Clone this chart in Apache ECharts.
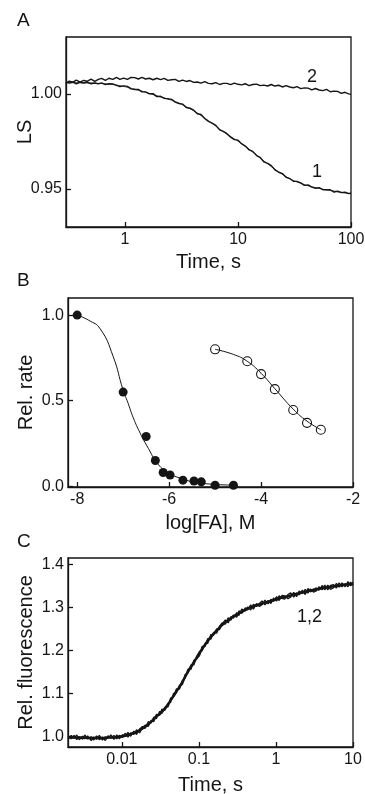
<!DOCTYPE html>
<html><head><meta charset="utf-8">
<script src="https://cdn.jsdelivr.net/npm/echarts@6/dist/echarts.min.js"></script>
<style>html,body{margin:0;padding:0;background:#fff}#c{width:365px;height:794px}</style>
</head><body><div id="c"></div>
<script>
// ---------- Panel A: light scattering vs time ----------
const timeA = [0.30,0.32,0.345,0.37,0.40,0.43,0.46,0.50,0.54,0.58,0.62,0.67,0.72,0.78,0.84,0.90,0.97,1.05,1.13,1.22,1.31,1.41,1.52,1.64,1.77,1.91,2.06,2.22,2.39,2.58,2.78,3.0,3.23,3.48,3.75,4.05,4.36,4.7,5.07,5.47,5.9,6.36,6.86,7.4,7.98,8.6,9.27,10.0,10.8,11.6,12.5,13.5,14.6,15.7,16.9,18.3,19.7,21.2,22.9,24.7,26.6,28.7,30.9,33.3,35.9,38.7,41.7,45,48.5,52.3,56.4,60.8,65.5,70.7,76.2,82.1,88.5,95.4,100];
const lsTrace1 = [1.0064,1.0057,1.0062,1.0054,1.0062,1.0058,1.0063,1.0054,1.0058,1.0053,1.0059,1.0049,1.0054,1.0053,1.0045,1.0039,1.0043,1.0040,1.0027,1.0024,1.0024,1.0011,1.0011,1.0001,1.0002,0.9986,0.9988,0.9977,0.9975,0.9972,0.9957,0.9950,0.9947,0.9929,0.9925,0.9915,0.9896,0.9892,0.9871,0.9856,0.9847,0.9835,0.9811,0.9803,0.9791,0.9773,0.9760,0.9757,0.9737,0.9726,0.9706,0.9698,0.9676,0.9666,0.9643,0.9635,0.9623,0.9601,0.9588,0.9581,0.9562,0.9555,0.9541,0.9540,0.9532,0.9519,0.9522,0.9510,0.9504,0.9507,0.9496,0.9496,0.9496,0.9484,0.9488,0.9481,0.9483,0.9476,0.9479];
const lsFit1 = [1.0060,1.0060,1.0060,1.0059,1.0059,1.0059,1.0058,1.0058,1.0057,1.0056,1.0055,1.0054,1.0052,1.0050,1.0047,1.0044,1.0040,1.0035,1.0030,1.0025,1.0020,1.0015,1.0009,1.0003,0.9997,0.9991,0.9985,0.9980,0.9974,0.9967,0.9960,0.9952,0.9943,0.9933,0.9923,0.9912,0.9900,0.9887,0.9873,0.9859,0.9845,0.9831,0.9816,0.9802,0.9788,0.9776,0.9764,0.9752,0.9738,0.9724,0.9710,0.9694,0.9678,0.9663,0.9648,0.9633,0.9618,0.9604,0.9590,0.9577,0.9565,0.9554,0.9545,0.9537,0.9530,0.9523,0.9517,0.9512,0.9507,0.9503,0.9499,0.9495,0.9492,0.9489,0.9486,0.9483,0.9480,0.9477,0.9475];
const lsTrace2 = [1.0055,1.0068,1.0062,1.0073,1.0062,1.0072,1.0067,1.0078,1.0067,1.0077,1.0082,1.0072,1.0083,1.0077,1.0088,1.0077,1.0084,1.0077,1.0087,1.0086,1.0079,1.0087,1.0079,1.0083,1.0075,1.0083,1.0076,1.0082,1.0072,1.0075,1.0077,1.0066,1.0073,1.0066,1.0071,1.0061,1.0063,1.0057,1.0065,1.0056,1.0054,1.0060,1.0050,1.0056,1.0056,1.0049,1.0057,1.0051,1.0048,1.0054,1.0044,1.0050,1.0052,1.0044,1.0047,1.0042,1.0050,1.0042,1.0046,1.0037,1.0044,1.0037,1.0033,1.0039,1.0028,1.0032,1.0031,1.0022,1.0029,1.0021,1.0018,1.0024,1.0012,1.0015,1.0014,1.0003,1.0009,1.0001,0.9998];
const ticksAx = [1, 10, 100];
const ticksAy = [0.95, 1.00];

// ---------- Panel B: relative rate vs log[FA] ----------
const logFAfilled = [-8.0,-7.0,-6.5,-6.3,-6.13,-5.98,-5.7,-5.46,-5.3,-5.0,-4.6];
const rateFilled  = [1.0,0.55,0.29,0.15,0.08,0.065,0.035,0.03,0.025,0.005,0.005];
const logFAopen = [-5.0,-4.3,-4.0,-3.7,-3.3,-3.0,-2.7];
const rateOpen  = [0.80,0.73,0.655,0.567,0.445,0.37,0.33];
const fitFilledX = [-8.0,-7.75,-7.5,-7.22,-7.0,-6.9,-6.78,-6.63,-6.45,-6.26,-6.04,-5.76,-5.33,-4.6];
const fitFilledY = [1.0,0.97,0.92,0.76,0.56,0.49,0.40,0.31,0.22,0.135,0.082,0.047,0.018,0.006];
const fitOpenX = [-5.0,-4.6,-4.3,-4.0,-3.7,-3.3,-3.0,-2.7];
const fitOpenY = [0.80,0.77,0.73,0.66,0.57,0.45,0.38,0.33];
const ticksBx = [-8, -6, -4, -2];
const ticksBy = [0.0, 0.5, 1.0];

// ---------- Panel C: relative fluorescence vs time (traces 1 and 2) ----------
const timeC = [0.0020,0.0022,0.0024,0.0026,0.0028,0.0031,0.0033,0.0036,0.0040,0.0043,0.0047,0.0051,0.0056,0.0061,0.0066,0.0072,0.0079,0.0086,0.0093,0.0102,0.011,0.012,0.013,0.0143,0.0155,0.017,0.0185,0.020,0.022,0.024,0.026,0.028,0.031,0.033,0.036,0.040,0.043,0.047,0.051,0.056,0.061,0.066,0.072,0.079,0.086,0.093,0.102,0.11,0.12,0.13,0.143,0.155,0.17,0.185,0.20,0.22,0.24,0.26,0.28,0.31,0.33,0.36,0.40,0.43,0.47,0.51,0.56,0.61,0.66,0.72,0.79,0.86,0.93,1.02,1.1,1.2,1.3,1.43,1.55,1.7,1.85,2.0,2.2,2.4,2.6,2.8,3.1,3.3,3.6,4.0,4.3,4.7,5.1,5.6,6.1,6.6,7.2,7.9,8.6,9.3,10.0];
const fluTrace1 = [1.001,0.994,1.002,0.992,0.999,0.993,1.003,0.994,0.999,0.991,1.001,0.992,0.998,0.990,1.001,0.996,1.002,0.994,1.002,0.997,1.007,0.998,1.008,1.004,1.015,1.008,1.020,1.026,1.023,1.037,1.034,1.051,1.049,1.063,1.060,1.077,1.079,1.100,1.101,1.119,1.120,1.143,1.148,1.166,1.166,1.185,1.198,1.199,1.215,1.216,1.237,1.235,1.250,1.248,1.261,1.271,1.264,1.278,1.275,1.288,1.281,1.296,1.292,1.301,1.294,1.307,1.302,1.309,1.315,1.306,1.316,1.309,1.322,1.315,1.327,1.321,1.319,1.330,1.334,1.324,1.334,1.329,1.340,1.330,1.344,1.336,1.343,1.337,1.348,1.341,1.352,1.341,1.351,1.353,1.345,1.357,1.348,1.355,1.348,1.359,1.352];
const fluTrace2 = [0.993,1.002,0.995,1.003,0.992,1.000,0.994,1.001,0.990,0.998,0.993,1.002,0.991,0.999,0.995,1.003,0.993,1.003,0.994,1.004,0.999,1.009,1.000,1.012,1.004,1.017,1.023,1.018,1.034,1.031,1.045,1.041,1.058,1.053,1.067,1.069,1.089,1.092,1.110,1.110,1.130,1.135,1.156,1.156,1.177,1.180,1.188,1.209,1.209,1.227,1.226,1.242,1.240,1.256,1.264,1.261,1.276,1.270,1.282,1.277,1.292,1.286,1.299,1.294,1.306,1.296,1.309,1.302,1.306,1.317,1.308,1.319,1.314,1.325,1.316,1.328,1.327,1.320,1.324,1.335,1.325,1.338,1.332,1.342,1.333,1.343,1.335,1.346,1.340,1.351,1.341,1.352,1.342,1.346,1.356,1.347,1.357,1.348,1.360,1.350,1.359];
const fluMean = [0.997,0.997,0.997,0.997,0.997,0.997,0.997,0.996,0.996,0.996,0.996,0.996,0.996,0.996,0.997,0.997,0.997,0.998,0.999,1.000,1.001,1.003,1.005,1.008,1.010,1.014,1.018,1.022,1.028,1.034,1.040,1.046,1.052,1.057,1.064,1.075,1.084,1.094,1.104,1.115,1.126,1.138,1.150,1.162,1.172,1.182,1.193,1.203,1.213,1.222,1.231,1.238,1.246,1.253,1.259,1.265,1.270,1.275,1.279,1.283,1.286,1.290,1.294,1.297,1.300,1.302,1.305,1.307,1.309,1.311,1.313,1.315,1.317,1.319,1.321,1.323,1.324,1.326,1.328,1.330,1.331,1.333,1.335,1.336,1.338,1.339,1.341,1.342,1.343,1.345,1.346,1.347,1.348,1.349,1.350,1.351,1.352,1.353,1.354,1.354,1.355];
const ticksCx = [0.01, 0.1, 1, 10];
const ticksCy = [1.0, 1.1, 1.2, 1.3, 1.4];

// ---------- styling ----------
const FONT = "'Liberation Sans', Arial, sans-serif";
const INK = '#151515';
const zip = (xs, ys) => xs.map((x, i) => [x, ys[i]]);

function xAx(gi, type, min, max, ticks, fmt, name, gap) {
  return {
    gridIndex: gi, type: type, logBase: 10, min: min, max: max,
    name: name, nameLocation: 'middle', nameGap: gap, nameMoveOverlap: false,
    nameTextStyle: { fontFamily: FONT, fontSize: 20, color: INK },
    axisLine: { show: true, onZero: false, lineStyle: { color: INK, width: 1.3 } },
    axisTick: { show: true, inside: true, length: 5, customValues: ticks, lineStyle: { color: INK, width: 1.3 } },
    minorTick: { show: false },
    axisLabel: { customValues: ticks, formatter: fmt, margin: 5, fontFamily: FONT, fontSize: 16, color: INK },
    splitLine: { show: false }
  };
}
function yAx(gi, min, max, ticks, fmt, name, gap) {
  return {
    gridIndex: gi, type: 'value', min: min, max: max,
    name: name, nameLocation: 'middle', nameGap: gap, nameRotate: 90, nameMoveOverlap: false,
    nameTextStyle: { fontFamily: FONT, fontSize: 20, color: INK },
    axisLine: { show: true, onZero: false, lineStyle: { color: INK, width: 1.3 } },
    axisTick: { show: true, inside: true, length: 5, customValues: ticks, lineStyle: { color: INK, width: 1.3 } },
    axisLabel: { customValues: ticks, formatter: fmt, margin: 4, fontFamily: FONT, fontSize: 16, color: INK },
    splitLine: { show: false }
  };
}
const gridBase = { show: true, borderColor: INK, borderWidth: 1.3, backgroundColor: 'transparent', outerBoundsMode: 'none', containLabel: false };

const option = {
  animation: false,
  backgroundColor: '#fff',
  grid: [
    Object.assign({ left: 66, top: 37, width: 285, height: 190 }, gridBase),
    Object.assign({ left: 68, top: 298, width: 285, height: 189 }, gridBase),
    Object.assign({ left: 68, top: 558, width: 285, height: 189 }, gridBase)
  ],
  xAxis: [
    xAx(0, 'log', 0.3, 100, ticksAx, v => String(v), 'Time, s', 25),
    xAx(1, 'value', -8.2, -2, ticksBx, v => String(v), 'log[FA], M', 26),
    xAx(2, 'log', 0.002, 10, ticksCx, v => String(v), 'Time, s', 28)
  ],
  yAxis: [
    yAx(0, 0.93, 1.03, ticksAy, v => v.toFixed(2), 'LS', 31),
    yAx(1, -0.005, 1.1, ticksBy, v => v.toFixed(1), 'Rel. rate', 32),
    yAx(2, 0.975, 1.415, ticksCy, v => v.toFixed(1), 'Rel. fluorescence', 32)
  ],
  series: [
    { type: 'line', xAxisIndex: 0, yAxisIndex: 0, data: zip(timeA, lsTrace2), showSymbol: false, lineStyle: { color: INK, width: 1.4 } },
    { type: 'line', xAxisIndex: 0, yAxisIndex: 0, data: zip(timeA, lsTrace1), showSymbol: false, lineStyle: { color: INK, width: 1.4 } },
    { type: 'line', xAxisIndex: 0, yAxisIndex: 0, data: zip(timeA, lsFit1), showSymbol: false, smooth: true, lineStyle: { color: INK, width: 0.8 } },
    { type: 'line', xAxisIndex: 1, yAxisIndex: 1, data: zip(fitFilledX, fitFilledY), showSymbol: false, smooth: true, lineStyle: { color: INK, width: 1 } },
    { type: 'line', xAxisIndex: 1, yAxisIndex: 1, data: zip(fitOpenX, fitOpenY), showSymbol: false, smooth: true, lineStyle: { color: INK, width: 1 } },
    { type: 'scatter', xAxisIndex: 1, yAxisIndex: 1, data: zip(logFAfilled, rateFilled), symbol: 'circle', symbolSize: 9, itemStyle: { color: INK, opacity: 1 }, clip: false },
    { type: 'scatter', xAxisIndex: 1, yAxisIndex: 1, data: zip(logFAopen, rateOpen), symbol: 'circle', symbolSize: 9, itemStyle: { color: '#fff', borderColor: INK, borderWidth: 1.1, opacity: 1 }, clip: false },
    { type: 'line', xAxisIndex: 2, yAxisIndex: 2, data: zip(timeC, fluMean), showSymbol: false, smooth: true, lineStyle: { color: INK, width: 2.5 } },
    { type: 'line', xAxisIndex: 2, yAxisIndex: 2, data: zip(timeC, fluTrace1), showSymbol: false, lineStyle: { color: INK, width: 1.3 } },
    { type: 'line', xAxisIndex: 2, yAxisIndex: 2, data: zip(timeC, fluTrace2), showSymbol: false, lineStyle: { color: INK, width: 1.3 } }
  ],
  graphic: [
    { type: 'text', left: 17, top: 11, style: { text: 'A', font: '19px ' + FONT, fill: INK } },
    { type: 'text', left: 17, top: 271, style: { text: 'B', font: '19px ' + FONT, fill: INK } },
    { type: 'text', left: 17, top: 532, style: { text: 'C', font: '19px ' + FONT, fill: INK } },
    { type: 'text', left: 307, top: 68, style: { text: '2', font: '18px ' + FONT, fill: INK } },
    { type: 'text', left: 312, top: 163, style: { text: '1', font: '18px ' + FONT, fill: INK } },
    { type: 'text', left: 297, top: 608, style: { text: '1,2', font: '18px ' + FONT, fill: INK } }
  ]
};
const chart = echarts.init(document.getElementById('c'), null, { renderer: 'canvas', width: 365, height: 794 });
chart.setOption(option);
</script>
</body></html>
